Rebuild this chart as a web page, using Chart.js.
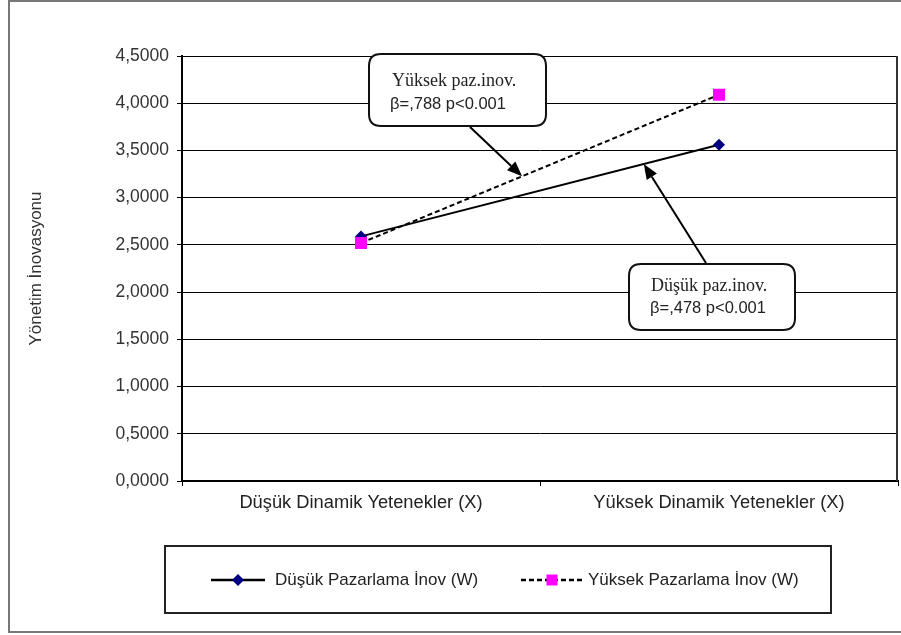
<!DOCTYPE html>
<html>
<head>
<meta charset="utf-8">
<script src="https://cdn.jsdelivr.net/npm/chart.js@4"></script>
<style>
  html, body { margin: 0; padding: 0; background: #fff; overflow: hidden; }
  #wrap { width: 901px; height: 635px; position: relative; }
</style>
</head>
<body>
<div id="wrap"><canvas id="chart" width="901" height="635"></canvas></div>
<script>
// ── Data ──────────────────────────────────────────────────────────────────────
const categories = ["Düşük Dinamik Yetenekler (X)", "Yüksek Dinamik Yetenekler (X)"];
const seriesLabels = ["Düşük Pazarlama İnov (W)", "Yüksek Pazarlama İnov (W)"];
const dusukValues = [2.59, 3.56];
const yuksekValues = [2.52, 4.09];
const yMin = 0, yMax = 4.5, yStep = 0.5;
const yTitle = "Yönetim İnovasyonu";

// callout texts: [serif line, sans line]
const callouts = [
  { lines: ["Yüksek paz.inov.", "β=,788 p<0.001"], box: [369, 54, 177, 72], text: [23, 27, 21, 50], from: [470, 127], series: 1, t: 0.45 },
  { lines: ["Düşük paz.inov.", "β=,478 p<0.001"], box: [629, 264, 166, 66], text: [22, 22, 21, 44], from: [706, 263], series: 0, t: 0.79 },
];

const SANS = "'Liberation Sans', Arial, sans-serif";
const SERIF = "'Liberation Serif', 'Times New Roman', serif";

function fmtTick(v) {
  return Number(v).toFixed(4).replace(".", ",");
}

function roundRect(ctx, x, y, w, h, r) {
  ctx.beginPath();
  ctx.moveTo(x + r, y);
  ctx.lineTo(x + w - r, y);
  ctx.quadraticCurveTo(x + w, y, x + w, y + r);
  ctx.lineTo(x + w, y + h - r);
  ctx.quadraticCurveTo(x + w, y + h, x + w - r, y + h);
  ctx.lineTo(x + r, y + h);
  ctx.quadraticCurveTo(x, y + h, x, y + h - r);
  ctx.lineTo(x, y + r);
  ctx.quadraticCurveTo(x, y, x + r, y);
  ctx.closePath();
}

// ── Plugin: page frame, plot border, callouts, legend ─────────────────────────
const decor = {
  id: "decor",
  beforeDraw(chart) {
    const ctx = chart.ctx;
    ctx.save();
    ctx.fillStyle = "#fff";
    ctx.fillRect(0, 0, chart.width, chart.height);
    ctx.strokeStyle = "#777";
    ctx.lineWidth = 2;
    ctx.strokeRect(9, 1, 910, 631);
    ctx.restore();
  },
  afterDatasetsDraw(chart) {
    const ctx = chart.ctx;
    const xs = chart.scales.x, ys = chart.scales.y;
    const area = chart.chartArea;
    ctx.save();
    // right border of plot area
    ctx.strokeStyle = "#333";
    ctx.lineWidth = 2;
    ctx.beginPath();
    ctx.moveTo(area.right - 1, area.top);
    ctx.lineTo(area.right - 1, area.bottom);
    ctx.stroke();

    callouts.forEach((c) => {
      const data = chart.data.datasets[c.series].data;
      const x0 = xs.getPixelForValue(0), x1 = xs.getPixelForValue(1);
      const tx = x0 + (x1 - x0) * c.t;
      const ty = ys.getPixelForValue(data[0] + (data[1] - data[0]) * c.t);
      const [fx, fy] = c.from;
      const ang = Math.atan2(ty - fy, tx - fx);
      const hl = 15, hw = 6;
      const bx = tx - hl * Math.cos(ang), by = ty - hl * Math.sin(ang);
      ctx.strokeStyle = "#000";
      ctx.lineWidth = 2;
      ctx.beginPath();
      ctx.moveTo(fx, fy);
      ctx.lineTo(bx, by);
      ctx.stroke();
      ctx.fillStyle = "#000";
      ctx.beginPath();
      ctx.moveTo(tx, ty);
      ctx.lineTo(bx + hw * Math.sin(ang), by - hw * Math.cos(ang));
      ctx.lineTo(bx - hw * Math.sin(ang), by + hw * Math.cos(ang));
      ctx.closePath();
      ctx.fill();

      const [x, y, w, h] = c.box;
      roundRect(ctx, x, y, w, h, 12);
      ctx.fillStyle = "#fff";
      ctx.fill();
      ctx.lineWidth = 2;
      ctx.strokeStyle = "#111";
      ctx.stroke();

      const [ax, ay, bxo, byo] = c.text;
      ctx.fillStyle = "#222";
      ctx.textBaseline = "middle";
      ctx.textAlign = "left";
      ctx.font = "18px " + SERIF;
      ctx.fillText(c.lines[0], x + ax, y + ay);
      ctx.font = "16.5px " + SANS;
      ctx.fillText(c.lines[1], x + bxo, y + byo);
    });
    ctx.restore();
  },
  afterDraw(chart) {
    const ctx = chart.ctx;
    const ds = chart.data.datasets;
    ctx.save();
    ctx.strokeStyle = "#222";
    ctx.lineWidth = 2;
    ctx.strokeRect(165, 546, 666, 67);

    const ly = 580;
    const items = [
      { x: 211, w: 54, textX: 275 },
      { x: 521, w: 62, textX: 588 },
    ];
    items.forEach((it, i) => {
      const d = ds[i];
      ctx.strokeStyle = d.borderColor;
      ctx.lineWidth = 2.5;
      ctx.setLineDash(d.borderDash || []);
      ctx.beginPath();
      ctx.moveTo(it.x, ly);
      ctx.lineTo(it.x + it.w, ly);
      ctx.stroke();
      ctx.setLineDash([]);
      const cx = it.x + it.w / 2;
      ctx.fillStyle = d.pointBackgroundColor;
      ctx.beginPath();
      if (d.pointStyle === "rectRot") {
        ctx.moveTo(cx, ly - 6);
        ctx.lineTo(cx + 6, ly);
        ctx.lineTo(cx, ly + 6);
        ctx.lineTo(cx - 6, ly);
        ctx.closePath();
        ctx.fill();
      } else {
        ctx.fillRect(cx - 5.5, ly - 5.5, 11, 11);
      }
      ctx.fillStyle = "#222";
      ctx.font = "17px " + SANS;
      ctx.textBaseline = "middle";
      ctx.textAlign = "left";
      ctx.fillText(d.label, it.textX, ly);
    });
    ctx.restore();
  },
};

new Chart(document.getElementById("chart"), {
  type: "line",
  data: {
    labels: categories,
    datasets: [
      {
        label: seriesLabels[0],
        data: dusukValues,
        borderColor: "#000",
        borderWidth: 2,
        pointStyle: "rectRot",
        pointRadius: 6,
        pointBackgroundColor: "#000080",
        pointBorderColor: "#000080",
        pointBorderWidth: 0,
        order: 1,
      },
      {
        label: seriesLabels[1],
        data: yuksekValues,
        borderColor: "#000",
        borderWidth: 2,
        borderDash: [5, 3],
        pointStyle: "rect",
        pointRadius: 8.5,
        pointBackgroundColor: "#FF00FF",
        pointBorderColor: "#FF00FF",
        pointBorderWidth: 0,
        order: 0,
      },
    ],
  },
  options: {
    responsive: false,
    animation: false,
    devicePixelRatio: 1,
    layout: { autoPadding: false, padding: { left: 22, top: 56, right: 3, bottom: 0 } },
    plugins: {
      legend: { display: false },
      tooltip: { enabled: false },
    },
    scales: {
      x: {
        offset: true,
        grid: { drawOnChartArea: false, offset: true, tickLength: 5, color: "#000", lineWidth: 1 },
        border: { color: "#000", width: 2 },
        ticks: { color: "#222", font: { family: SANS, size: 18.3 }, padding: 6, maxRotation: 0, autoSkip: false },
        afterFit: (s) => { s.height = 154; s.paddingLeft = 0; s.paddingRight = 0; },
      },
      y: {
        min: yMin,
        max: yMax,
        grid: { color: "#000", lineWidth: 1, tickLength: 5 },
        border: { color: "#000", width: 2 },
        ticks: { stepSize: yStep, color: "#333", font: { family: SANS, size: 17.5 }, padding: 8, callback: fmtTick },
        title: { display: true, text: yTitle, color: "#333", font: { family: SANS, size: 17 }, padding: 4 },
        afterFit: (s) => { s.width = 160; s.paddingTop = 0; s.paddingBottom = 0; },
      },
    },
  },
  plugins: [decor],
});
</script>
</body>
</html>
